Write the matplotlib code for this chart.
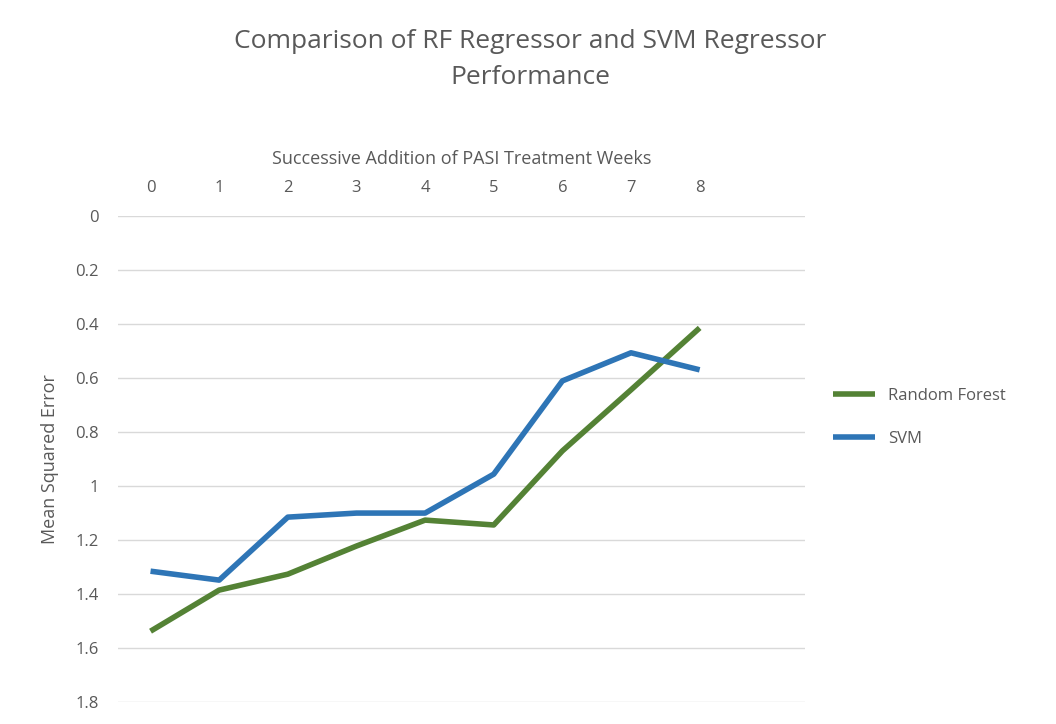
import matplotlib.pyplot as plt

weeks = [0, 1, 2, 3, 4, 5, 6, 7, 8]
rf_mse = [1.537, 1.385, 1.326, 1.222, 1.126, 1.144, 0.870, 0.644, 0.415]
svm_mse = [1.315, 1.348, 1.115, 1.100, 1.100, 0.956, 0.611, 0.507, 0.570]

plt.rcParams["font.family"] = "Open Sans"
text_color = "#595959"

fig = plt.figure(figsize=(10.56, 7.24), dpi=100)
ax = fig.add_axes([0.112, 0.030, 0.650, 0.672])

ax.plot(weeks, rf_mse, color="#548235", linewidth=4, label="Random Forest", solid_capstyle="butt")
ax.plot(weeks, svm_mse, color="#2E75B6", linewidth=4, label="SVM", solid_capstyle="butt")

ax.set_xlim(-0.47, 9.53)
ax.set_ylim(1.8, 0)
ax.set_yticks([0, 0.2, 0.4, 0.6, 0.8, 1.0, 1.2, 1.4, 1.6, 1.8])
ax.set_yticklabels(["0", "0.2", "0.4", "0.6", "0.8", "1", "1.2", "1.4", "1.6", "1.8"])
ax.set_xticks(weeks)
ax.xaxis.tick_top()
ax.xaxis.set_label_position("top")
ax.tick_params(length=0, labelsize=12, colors=text_color, pad=14)
ax.grid(axis="y", color="#d9d9d9", linewidth=1)
for s in ax.spines.values():
    s.set_visible(False)

ax.set_xlabel("Successive Addition of PASI Treatment Weeks", fontsize=13, color=text_color, labelpad=12)
ax.set_ylabel("Mean Squared Error", fontsize=13, color=text_color, labelpad=12)

fig.text(0.502, 0.918, "Comparison of RF Regressor and SVM Regressor\nPerformance",
         ha="center", va="center", fontsize=19, color=text_color, linespacing=1.55)

ax.legend(loc="center left", bbox_to_anchor=(1.02, 0.585), frameon=False, fontsize=12,
          labelcolor=text_color, handlelength=2.5, labelspacing=1.6)

fig.savefig("out.png", dpi=100)
